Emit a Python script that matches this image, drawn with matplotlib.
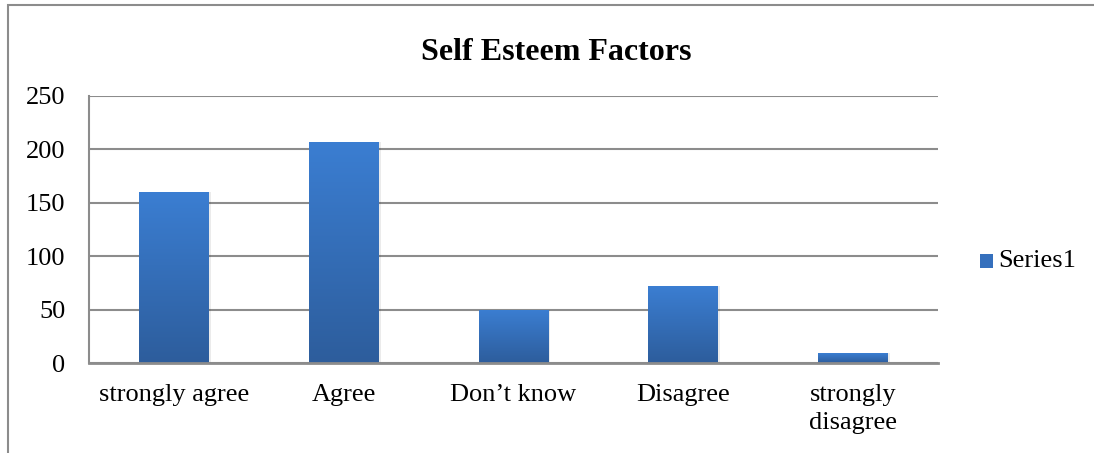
import matplotlib
matplotlib.use("Agg")
import matplotlib.pyplot as plt
import numpy as np
from matplotlib.colors import LinearSegmentedColormap
from matplotlib.patches import Rectangle

categories = ["strongly agree", "Agree", "Don\u2019t know", "Disagree", "strongly\ndisagree"]
values = [160, 207, 50, 72, 9]
yticks = [0, 50, 100, 150, 200, 250]
series_name = "Series1"
title = "Self Esteem Factors"

plt.rcParams['font.family'] = ['Liberation Serif', 'DejaVu Serif']

fig = plt.figure(figsize=(10.94, 4.53), dpi=100)
# outer frame (extends past right/bottom edges)
fig.patches.append(Rectangle((8/1094, -0.1), 1.5, 1 - 5/453 + 0.1, transform=fig.transFigure,
                             fill=False, edgecolor='#8c8c8c', linewidth=1.5))

ax = fig.add_axes([89/1094, 1 - 363/453, (938 - 89)/1094, (363 - 96)/453])
x = np.arange(len(categories))
width = 0.41
bars = ax.bar(x, values, width=width, color='#3570bd', zorder=3)

cmap = LinearSegmentedColormap.from_list('g', ['#2d5d9c', '#3b7ed2'])
grad = np.linspace(0, 1, 256).reshape(-1, 1)
for b in bars:
    bx, by = b.get_x(), b.get_y()
    w, h = b.get_width(), b.get_height()
    sh = Rectangle((bx + 0.012, by), w, h, facecolor='#000000', alpha=0.08, zorder=2, linewidth=0)
    ax.add_patch(sh)
    im = ax.imshow(grad, cmap=cmap, aspect='auto', extent=[bx, bx + w, by, by + h],
                   origin='lower', zorder=4)
    im.set_clip_path(b)

ax.set_xlim(-0.5, len(categories) - 0.5)
ax.set_ylim(0, 250)
ax.set_yticks(yticks)
ax.set_xticks(x)
ax.set_xticklabels(categories, fontsize=19, linespacing=1.35)
ax.tick_params(axis='y', labelsize=19, length=0, pad=17)
ax.tick_params(axis='x', length=0, pad=15)
ax.yaxis.grid(True, color='#8c8c8c', linewidth=1.5, zorder=0)
for s in ['top', 'right']:
    ax.spines[s].set_visible(False)
ax.spines['left'].set_color('#8c8c8c')
ax.spines['left'].set_linewidth(1.5)
ax.spines['bottom'].set_color('#8c8c8c')
ax.spines['bottom'].set_linewidth(2)
ax.spines['bottom'].set_zorder(5)

fig.text(556/1094, 1 - 52/453, title, ha='center', va='center', fontsize=23, fontweight='bold')

# legend
fig.patches.append(Rectangle((980/1094, 1 - 268/453), 13/1094, 14/453, transform=fig.transFigure,
                             facecolor='#3570bd', edgecolor='none'))
fig.text(998/1094, 1 - 261/453, series_name, ha='left', va='center', fontsize=19)

fig.savefig("out.png", dpi=100)
